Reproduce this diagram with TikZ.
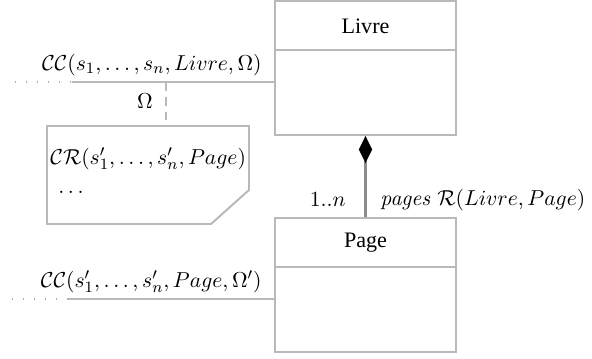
\documentclass[tikz,border=0pt]{standalone}
\usepackage[no-math]{fontspec}
\setmainfont{Liberation Serif}
\usetikzlibrary{arrows.meta}
\definecolor{boxgray}{RGB}{185,185,185}
\definecolor{compgray}{RGB}{140,140,140}
\definecolor{dotgray}{RGB}{175,175,175}
\begin{document}
\begin{tikzpicture}[x=0.5068pt,y=-0.5068pt,
  font=\fontsize{11.2pt}{13pt}\selectfont,
  classbox/.style={draw=boxgray,line width=1pt,minimum width=91.7pt,minimum height=67.9pt,inner sep=0pt},
  cname/.style={inner sep=0pt},
  assoc/.style={draw=boxgray,line width=1pt},
  dots/.style={draw=dotgray,line width=0.9pt,dash pattern=on 0.6pt off 5pt},
  omegaline/.style={draw=boxgray,line width=1pt,dash pattern=on 4.5pt off 3pt},
  comp/.style={draw=compgray,line width=1.1pt},
  lbl/.style={inner sep=0pt}
]
\useasboundingbox (0,0) rectangle (592,358);
% Livre
\node[classbox] (livre) at (365.5,68) {};
\node[cname] (livren) at (365.5,26) {Livre};
\coordinate (ldiv) at (365.5,50);
\draw[assoc] (ldiv -| livre.west) -- (ldiv -| livre.east);
% Page
\node[classbox] (page) at (365.5,285) {};
\node[cname] (pagen) at (365.5,243) {Page};
\coordinate (pdiv) at (365.5,267);
\draw[assoc] (pdiv -| page.west) -- (pdiv -| page.east);
% composition
\draw[comp,{Diamond[length=13.7pt,width=6.8pt,color=black,fill=black]}-] (livre.south) -- (page.north);
\node[lbl,anchor=east] (mult) at (346,200) {$1..n$};
\node[lbl,anchor=west] (role) at (380,200) {$\mathit{pages}\ \mathcal{R}(Livre,Page)$};
% Livre context connector
\coordinate (c1) at (72,82);
\coordinate (d1) at (15,82);
\draw[assoc] (c1) -- (c1 -| livre.west);
\draw[dots] (d1) -- (c1);
\node[lbl,anchor=base east] (cc1) at (262,70) {$\mathcal{CC}(s_1,\ldots,s_n,Livre,\Omega)$};
% Omega link and note
\coordinate (o1) at (166,82);
\coordinate (n1) at (47,126);
\coordinate (n2) at (249,126);
\coordinate (n3) at (249,190);
\coordinate (n4) at (211,224);
\coordinate (n5) at (47,224);
\draw[assoc] (n1) -- (n2) -- (n3) -- (n4) -- (n5) -- cycle;
\coordinate (o2) at (166,126);
\draw[omegaline] (o1) -- (o2);
\node[lbl] (om) at (145,101) {$\Omega$};
\node[lbl,anchor=base west] (cr) at (50,164) {$\mathcal{CR}(s'_1,\ldots,s'_n,Page)$};
\node[lbl,anchor=base west] (dd) at (58,193) {$\ldots$};
% Page context connector
\coordinate (c2) at (68,299);
\coordinate (d2) at (12,299);
\draw[assoc] (c2) -- (c2 -| page.west);
\draw[dots] (d2) -- (c2);
\node[lbl,anchor=base east] (cc2) at (262,287) {$\mathcal{CC}(s'_1,\ldots,s'_n,Page,\Omega')$};
\end{tikzpicture}
\end{document}
